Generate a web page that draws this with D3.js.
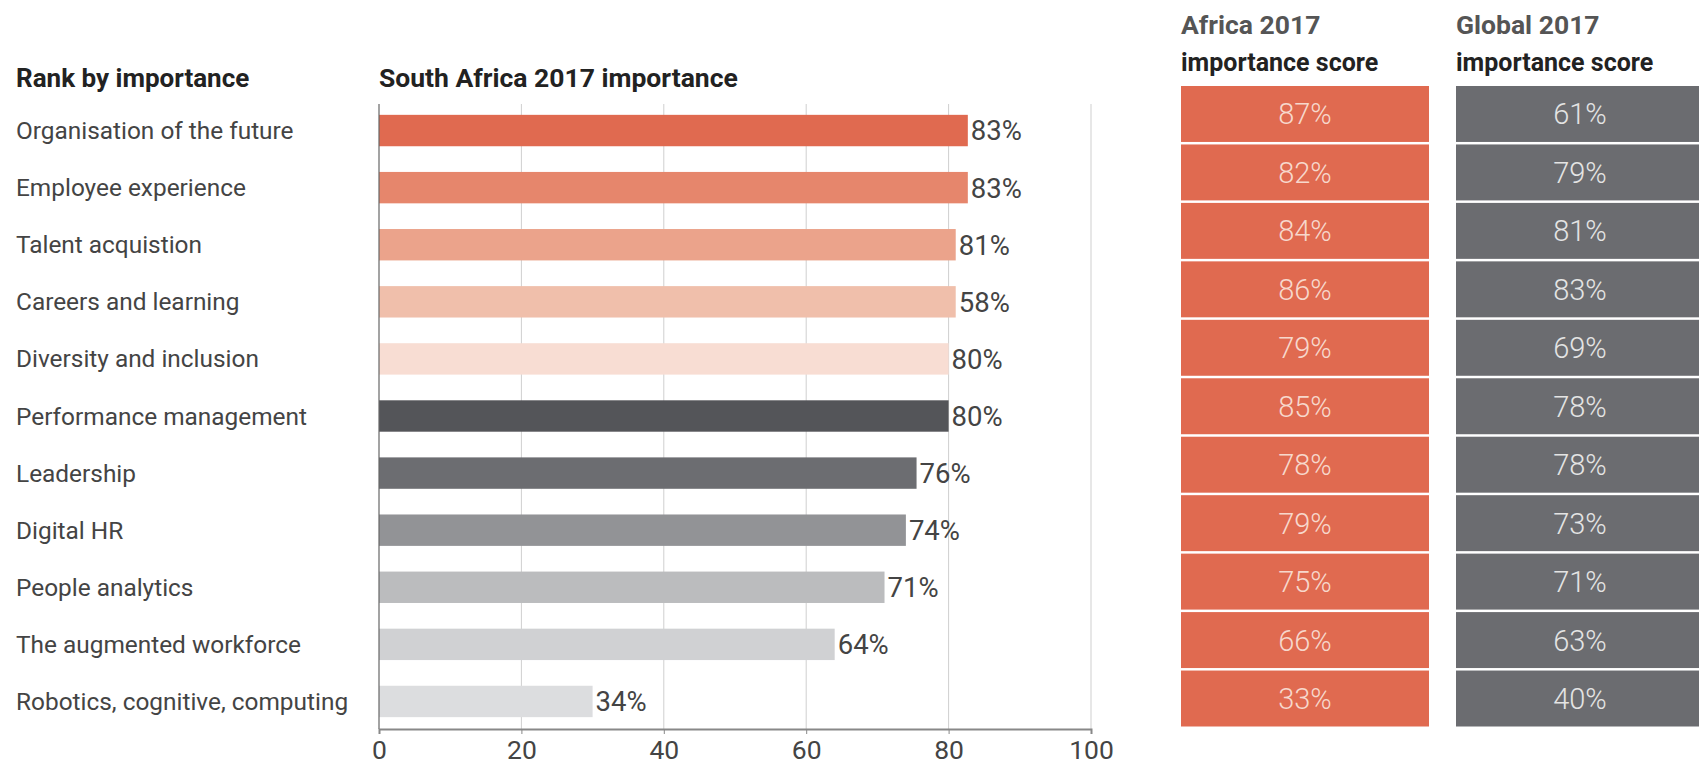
<!DOCTYPE html>
<html>
<head>
<meta charset="utf-8">
<script src="https://cdn.jsdelivr.net/npm/d3@7"></script>
<style>
  body { margin: 0; background: #fff; }
  svg { display: block; font-family: Roboto, "Liberation Sans", sans-serif; }
</style>
</head>
<body>
<div id="chart"></div>
<script>
const categories = [
  "Organisation of the future",
  "Employee experience",
  "Talent acquistion",
  "Careers and learning",
  "Diversity and inclusion",
  "Performance management",
  "Leadership",
  "Digital HR",
  "People analytics",
  "The augmented workforce",
  "Robotics, cognitive, computing"
];
// bar lengths as drawn in the picture
const saBars = [82.7, 82.7, 81, 81, 80, 80, 75.5, 74, 71, 64, 30];
// labels as printed next to the bars
const saLabels = ["83%", "83%", "81%", "58%", "80%", "80%", "76%", "74%", "71%", "64%", "34%"];
const africaScores = [87, 82, 84, 86, 79, 85, 78, 79, 75, 66, 33];
const globalScores = [61, 79, 81, 83, 69, 78, 78, 73, 71, 63, 40];
const xTicks = [0, 20, 40, 60, 80, 100];
const barColors = ["#e06a50", "#e6866c", "#eba38b", "#f0bfab", "#f8ddd3",
  "#545559", "#6c6d71", "#929396", "#bbbcbe", "#d0d1d3", "#dcdddf"];

const width = 1699, height = 770;

const svg = d3.select("#chart")
  .append("svg")
  .attr("width", width)
  .attr("height", height);

const xScale = d3.scaleLinear()
  .domain([0, 100])
  .range([379, 1091]);

const yScale = d3.scaleBand()
  .domain(categories)
  .range([102, 730])
  .paddingInner(0.45)
  .paddingOuter(0.225);

const axisY = 729, gridTop = 104;

// titles
svg.append("text")
  .attr("x", 16).attr("y", 87)
  .text("Rank by importance")
  .style("font-size", "26px").style("font-weight", 700).style("fill", "#222");

svg.append("text")
  .attr("x", 379).attr("y", 87)
  .text("South Africa 2017 importance")
  .style("font-size", "26.5px").style("font-weight", 700).style("fill", "#222");

// gridlines
svg.selectAll(".grid")
  .data(xTicks.slice(1))
  .enter()
  .append("line")
  .attr("class", "grid")
  .attr("x1", d => xScale(d)).attr("x2", d => xScale(d))
  .attr("y1", gridTop).attr("y2", axisY)
  .attr("stroke", "#cfcfcf")
  .attr("stroke-width", 1);

// bars
svg.selectAll(".bar")
  .data(categories)
  .enter()
  .append("rect")
  .attr("class", "bar")
  .attr("x", xScale(0))
  .attr("y", d => yScale(d))
  .attr("width", (d, i) => xScale(saBars[i]) - xScale(0))
  .attr("height", yScale.bandwidth())
  .attr("fill", (d, i) => barColors[i]);

// left axis line
svg.append("line")
  .attr("x1", xScale(0)).attr("x2", xScale(0))
  .attr("y1", gridTop).attr("y2", axisY)
  .attr("stroke", "#666").attr("stroke-width", 1.2);

// bottom axis
const xAxis = svg.append("g")
  .attr("transform", `translate(0, ${axisY})`)
  .call(d3.axisBottom(xScale).tickValues(xTicks).tickSize(5).tickFormat(d3.format("d")));

xAxis.select(".domain").attr("stroke", "#888").attr("stroke-width", 2);
xAxis.selectAll(".tick line").attr("stroke", "#888");
xAxis.selectAll(".tick text")
  .attr("y", 11)
  .attr("dy", "0.71em")
  .style("font-size", "26.5px")
  .style("fill", "#444")
  .style("font-family", "Roboto, sans-serif");

// category labels
svg.selectAll(".cat")
  .data(categories)
  .enter()
  .append("text")
  .attr("class", "cat")
  .attr("x", 16)
  .attr("y", d => yScale(d) + yScale.bandwidth() / 2)
  .attr("dy", "0.35em")
  .text(d => d)
  .style("font-size", "24.4px")
  .style("fill", "#444");

// value labels
svg.selectAll(".val")
  .data(categories)
  .enter()
  .append("text")
  .attr("class", "val")
  .attr("x", (d, i) => xScale(saBars[i]) + 3)
  .attr("y", d => yScale(d) + yScale.bandwidth() / 2)
  .attr("dy", "0.36em")
  .text((d, i) => saLabels[i])
  .style("font-size", "27.5px")
  .style("fill", "#444");

// right-hand score tables
const rowScale = d3.scaleBand()
  .domain(categories)
  .range([86, 729]);

const tables = [
  { title: "Africa 2017", x0: 1181, x1: 1429, cx: 1305, fill: "#e06a50", text: "#f7d8cc", values: africaScores },
  { title: "Global 2017", x0: 1456, x1: 1720, cx: 1580, fill: "#6b6c70", text: "#e4e4e4", values: globalScores }
];

tables.forEach(t => {
  const g = svg.append("g");

  g.append("text")
    .attr("x", t.x0).attr("y", 34)
    .text(t.title)
    .style("font-size", "26.5px").style("font-weight", 700).style("fill", "#555");
  g.append("text")
    .attr("x", t.x0).attr("y", 71)
    .text("importance score")
    .style("font-size", "25px").style("font-weight", 700).style("fill", "#222");

  g.selectAll("rect")
    .data(categories)
    .enter()
    .append("rect")
    .attr("x", t.x0)
    .attr("y", d => rowScale(d))
    .attr("width", t.x1 - t.x0)
    .attr("height", rowScale.bandwidth() - 2.5)
    .attr("fill", t.fill);

  g.selectAll(".cell")
    .data(categories)
    .enter()
    .append("text")
    .attr("class", "cell")
    .attr("x", t.cx)
    .attr("y", d => rowScale(d) + (rowScale.bandwidth() - 2.5) / 2)
    .attr("dy", "0.36em")
    .attr("text-anchor", "middle")
    .text((d, i) => t.values[i] + "%")
    .style("font-size", "29px")
    .style("font-weight", 300)
    .style("fill", t.text);
});
</script>
</body>
</html>
